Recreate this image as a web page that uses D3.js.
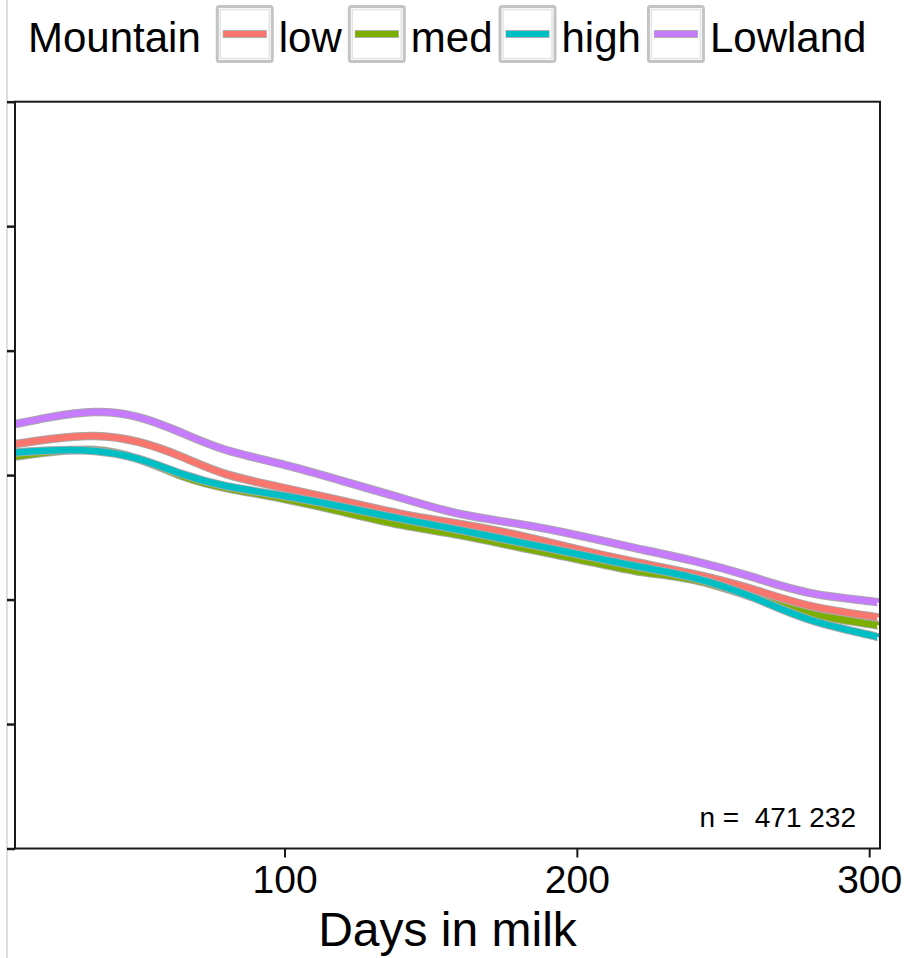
<!DOCTYPE html>
<html>
<head>
<meta charset="utf-8">
<script src="https://cdn.jsdelivr.net/npm/d3@7"></script>
<style>
  html, body { margin: 0; padding: 0; background: #fff; }
  svg { display: block; font-family: "Liberation Sans", Arial, sans-serif; }
</style>
</head>
<body>
<svg id="chart" width="917" height="958"></svg>
<script>
// Lactation curves: fitted yield by days in milk for each region
const days = [8, 20, 35, 50, 65, 80, 100, 120, 140, 160, 180, 200, 220, 240, 260, 280, 300, 303.7];

const lowValues     = [16.25, 16.45, 16.57, 16.33, 15.73, 15.04, 14.48, 13.96, 13.44, 13.04, 12.59, 12.03, 11.51, 11.03, 10.42, 9.74, 9.34, 9.22];
const medValues     = [15.75, 15.93, 16.01, 15.65, 14.96, 14.48, 14.04, 13.52, 13.00, 12.59, 12.11, 11.63, 11.15, 10.79, 10.10, 9.42, 9.02, 8.90];
const highValues    = [15.91, 15.99, 15.97, 15.65, 15.04, 14.56, 14.16, 13.72, 13.24, 12.79, 12.31, 11.83, 11.35, 10.87, 10.10, 9.18, 8.58, 8.42];
const lowlandValues = [17.05, 17.33, 17.53, 17.33, 16.69, 16.01, 15.41, 14.76, 14.08, 13.44, 13.04, 12.59, 12.07, 11.55, 10.91, 10.26, 9.94, 9.82];

const seriesNames = ["low", "med", "high", "Lowland"];
const seriesColors = ["#F8766D", "#7CAE00", "#00BFC4", "#C77CFF"];
const legendTitle = "Mountain";

const xTicks = [100, 200, 300];
const yTicks = [0, 5, 10, 15, 20, 25, 30];
const xDomain = [7.8, 303.7];
const yDomain = [0, 30];

const xTitle = "Days in milk";
const noteText = "n =  471 232";

const series = [
  { name: seriesNames[0], color: seriesColors[0], values: lowValues },
  { name: seriesNames[1], color: seriesColors[1], values: medValues },
  { name: seriesNames[2], color: seriesColors[2], values: highValues },
  { name: seriesNames[3], color: seriesColors[3], values: lowlandValues }
];

const svg = d3.select("#chart");

// panel geometry
const panel = { left: 15, right: 880, top: 101.7, bottom: 848.5 };

const x = d3.scaleLinear().domain(xDomain).range([panel.left, panel.right]);
const y = d3.scaleLinear().domain(yDomain).range([panel.bottom, panel.top]);

// faint frame line at far left
svg.append("line")
  .attr("x1", 7).attr("x2", 7).attr("y1", 0).attr("y2", 958)
  .attr("stroke", "#d4d4d4").attr("stroke-width", 1.5);

// clip for the curves
svg.append("clipPath").attr("id", "panelClip")
  .append("rect")
  .attr("x", panel.left).attr("y", panel.top)
  .attr("width", panel.right - panel.left).attr("height", panel.bottom - panel.top);

const line = d3.line()
  .x((d, i) => x(days[i]))
  .y(d => y(d))
  .curve(d3.curveNatural);

const curves = svg.append("g").attr("clip-path", "url(#panelClip)");

// grey halo under each curve, then the coloured stroke
series.forEach(s => {
  curves.append("path")
    .attr("d", line(s.values))
    .attr("fill", "none")
    .attr("stroke", "#a8a8a8")
    .attr("stroke-width", 8.5)
    .attr("stroke-linejoin", "round");
  curves.append("path")
    .attr("d", line(s.values))
    .attr("fill", "none")
    .attr("stroke", s.color)
    .attr("stroke-width", 6.5)
    .attr("stroke-linejoin", "round");
});

// panel border
svg.append("rect")
  .attr("x", panel.left).attr("y", panel.top)
  .attr("width", panel.right - panel.left).attr("height", panel.bottom - panel.top)
  .attr("fill", "none").attr("stroke", "#1a1a1a").attr("stroke-width", 2);

// x axis
const xAxis = svg.append("g")
  .attr("transform", `translate(0,${panel.bottom})`)
  .call(d3.axisBottom(x).tickValues(xTicks).tickSize(9).tickPadding(8).tickFormat(d3.format("d")));
xAxis.select(".domain").remove();
xAxis.selectAll(".tick line").attr("stroke", "#1a1a1a").attr("stroke-width", 2);
xAxis.selectAll(".tick text")
  .attr("fill", "#000")
  .style("font-size", "39px")
  .style("font-family", "'Liberation Sans', Arial, sans-serif");

// y axis: tick marks only
const yAxis = svg.append("g")
  .attr("transform", `translate(${panel.left},0)`)
  .call(d3.axisLeft(y).tickValues(yTicks).tickSize(8).tickFormat(""));
yAxis.select(".domain").remove();
yAxis.selectAll(".tick line").attr("stroke", "#1a1a1a").attr("stroke-width", 2.5);

// axis title
svg.append("text")
  .attr("x", (panel.left + panel.right) / 2)
  .attr("y", 946)
  .attr("text-anchor", "middle")
  .style("font-size", "48px")
  .text(xTitle);

// sample size note
svg.append("text")
  .attr("x", 856)
  .attr("y", 827)
  .attr("text-anchor", "end")
  .style("font-size", "28px")
  .style("white-space", "pre")
  .attr("xml:space", "preserve")
  .text(noteText);

// legend
const legend = svg.append("g");
const baseY = 52;
let cx = 28;
const titleNode = legend.append("text")
  .attr("x", cx).attr("y", baseY)
  .style("font-size", "42px")
  .text(legendTitle);
cx += titleNode.node().getComputedTextLength() + 15;

const keySize = 58;
series.forEach(s => {
  const g = legend.append("g").attr("transform", `translate(${cx},5)`);
  g.append("rect")
    .attr("x", 1.5).attr("y", 1.5)
    .attr("width", keySize - 3).attr("height", keySize - 3)
    .attr("rx", 2)
    .attr("fill", "#fff").attr("stroke", "#c4c4c4").attr("stroke-width", 3);
  g.append("rect")
    .attr("x", 4.5).attr("y", 4.5)
    .attr("width", keySize - 9).attr("height", keySize - 9)
    .attr("fill", "none").attr("stroke", "#e4e4e4").attr("stroke-width", 1.5);
  g.append("line")
    .attr("x1", 7).attr("x2", 51).attr("y1", 29).attr("y2", 29)
    .attr("stroke", "#b0b0b0").attr("stroke-width", 8);
  g.append("line")
    .attr("x1", 7.5).attr("x2", 50.5).attr("y1", 29).attr("y2", 29)
    .attr("stroke", s.color).attr("stroke-width", 6);
  cx += keySize + 5;
  const t = legend.append("text")
    .attr("x", cx).attr("y", baseY)
    .style("font-size", "42px")
    .text(s.name);
  cx += t.node().getComputedTextLength() + 6;
});
</script>
</body>
</html>
